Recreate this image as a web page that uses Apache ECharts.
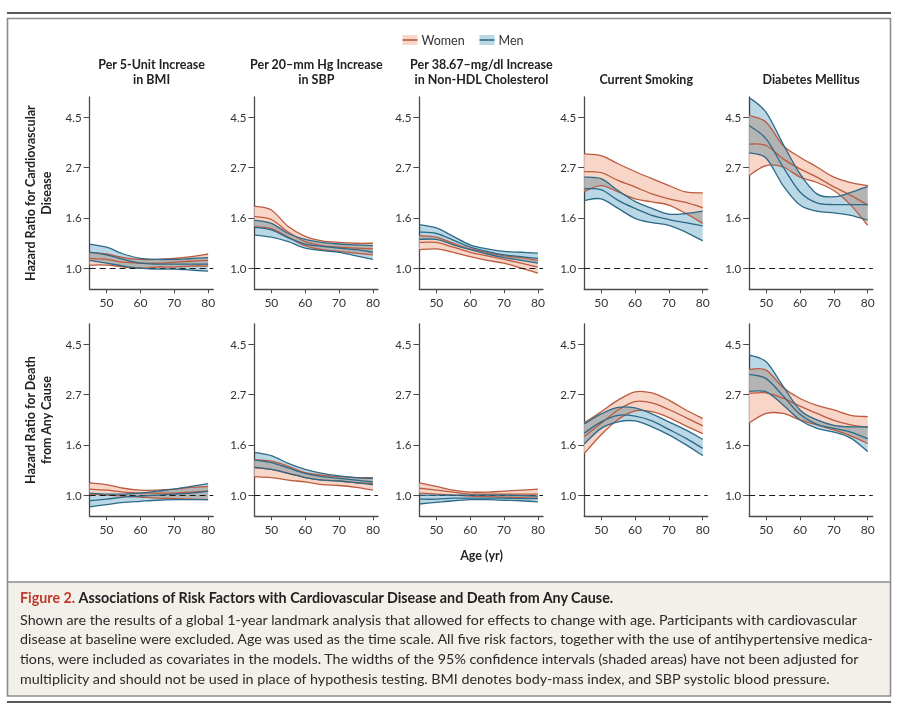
<!DOCTYPE html>
<html><head><meta charset="utf-8">
<script src="https://cdn.jsdelivr.net/npm/echarts@6/dist/echarts.min.js"></script>
<style>
html,body{margin:0;padding:0;background:#fff}
#chart{width:898px;height:712px}
#chart path[fill="#b9d7e5"]{mix-blend-mode:multiply}
</style>
</head><body><div id="chart"></div><script>
// ---------- data ----------
const ages = [45, 50, 55, 60, 65, 70, 75, 80];
const panelTitles = ['Per 5-Unit Increase\nin BMI', 'Per 20\u2013mm Hg Increase\nin SBP', 'Per 38.67\u2013mg/dl Increase\nin Non-HDL Cholesterol', 'Current Smoking', 'Diabetes Mellitus'];
const rowTitles = ['Hazard Ratio for Cardiovascular\nDisease', 'Hazard Ratio for Death\nfrom Any Cause'];
const yTickPositions = [0, 0.5, 1, 1.5];          // ln(hazard ratio)
const yTickLabels = ['1.0', '1.6', '2.7', '4.5'];
const xTickValues = [50, 60, 70, 80];
const legendNames = ['Women', 'Men'];
const xAxisTitle = 'Age (yr)';
const captionTitle = ['Figure 2.', 'Associations of Risk Factors with Cardiovascular Disease and Death from Any Cause.'];
const captionLines = [
  'Shown are the results of a global 1-year landmark analysis that allowed for effects to change with age. Participants with cardiovascular',
  'disease at baseline were excluded. Age was used as the time scale. All five risk factors, together with the use of antihypertensive medica-',
  'tions, were included as covariates in the models. The widths of the 95% confidence intervals (shaded areas) have not been adjusted for',
  'multiplicity and should not be used in place of hypothesis testing. BMI denotes body-mass index, and SBP systolic blood pressure.'
];

// hazard ratios per age: [lower 95% CI, estimate, upper 95% CI]
const cvdBmiWomen = [[1.03,1.10,1.17],[1.03,1.09,1.15],[1.01,1.06,1.11],[1.00,1.05,1.09],[1.01,1.05,1.09],[1.01,1.06,1.10],[1.02,1.07,1.12],[1.02,1.08,1.15]];
const cvdBmiMen   = [[1.08,1.17,1.27],[1.05,1.14,1.23],[1.02,1.09,1.15],[1.00,1.05,1.10],[0.99,1.04,1.09],[0.99,1.04,1.09],[0.98,1.04,1.10],[0.97,1.04,1.11]];
const cvdSbpWomen = [[1.51,1.67,1.85],[1.48,1.62,1.78],[1.36,1.43,1.51],[1.25,1.30,1.37],[1.20,1.25,1.31],[1.18,1.23,1.29],[1.16,1.22,1.28],[1.14,1.21,1.28]];
const cvdSbpMen   = [[1.39,1.50,1.61],[1.36,1.46,1.56],[1.30,1.35,1.41],[1.22,1.27,1.33],[1.19,1.24,1.29],[1.17,1.22,1.27],[1.13,1.20,1.26],[1.09,1.17,1.25]];
const cvdCholWomen = [[1.20,1.29,1.38],[1.21,1.29,1.36],[1.17,1.23,1.28],[1.12,1.17,1.21],[1.08,1.13,1.17],[1.05,1.09,1.13],[1.00,1.05,1.11],[0.95,1.01,1.08]];
const cvdCholMen   = [[1.33,1.43,1.54],[1.33,1.41,1.49],[1.26,1.32,1.37],[1.20,1.23,1.26],[1.15,1.18,1.21],[1.11,1.14,1.18],[1.08,1.12,1.17],[1.05,1.10,1.16]];
const cvdSmokeWomen = [[2.14,2.61,3.11],[2.27,2.58,3.06],[2.13,2.39,2.82],[1.99,2.24,2.61],[1.93,2.09,2.43],[1.87,1.99,2.27],[1.72,1.92,2.13],[1.56,1.82,2.11]];
const cvdSmokeMen   = [[1.96,2.20,2.47],[1.99,2.18,2.43],[1.81,1.96,2.16],[1.64,1.81,1.94],[1.57,1.69,1.81],[1.53,1.62,1.71],[1.43,1.57,1.72],[1.31,1.52,1.76]];
const cvdDiabWomen = [[2.51,3.43,4.55],[2.77,3.38,4.26],[2.73,2.96,3.38],[2.47,2.68,3.01],[2.34,2.47,2.73],[2.16,2.24,2.47],[1.87,2.06,2.34],[1.53,1.87,2.27]];
const cvdDiabMen   = [[3.14,4.12,5.45],[2.98,3.61,4.70],[2.27,2.73,3.43],[1.87,2.13,2.55],[1.76,1.91,2.09],[1.73,1.88,2.03],[1.69,1.88,2.12],[1.61,1.88,2.25]];
const deathBmiWomen = [[1.01,1.06,1.13],[1.00,1.05,1.11],[0.99,1.03,1.07],[0.98,1.02,1.05],[0.97,1.02,1.05],[0.965,1.02,1.06],[0.96,1.03,1.08],[0.955,1.04,1.09]];
const deathBmiMen   = [[0.89,0.945,1.02],[0.91,0.96,1.01],[0.93,0.98,1.01],[0.94,0.99,1.02],[0.95,1.00,1.04],[0.955,1.01,1.06],[0.955,1.02,1.09],[0.955,1.04,1.12]];
const deathSbpWomen = [[1.20,1.31,1.42],[1.19,1.29,1.40],[1.16,1.24,1.33],[1.14,1.19,1.25],[1.11,1.16,1.22],[1.10,1.15,1.20],[1.08,1.13,1.19],[1.05,1.12,1.19]];
const deathSbpMen   = [[1.32,1.42,1.53],[1.29,1.38,1.48],[1.24,1.31,1.37],[1.19,1.24,1.29],[1.16,1.20,1.24],[1.15,1.18,1.21],[1.13,1.16,1.19],[1.11,1.14,1.18]];
const deathCholWomen = [[1.02,1.07,1.13],[1.01,1.05,1.09],[1.00,1.03,1.05],[0.99,1.01,1.03],[0.985,1.01,1.03],[0.98,1.01,1.04],[0.975,1.01,1.05],[0.97,1.01,1.06]];
const deathCholMen   = [[0.915,0.96,1.00],[0.93,0.96,1.00],[0.945,0.97,1.00],[0.955,0.97,1.00],[0.955,0.97,1.00],[0.95,0.97,1.00],[0.945,0.965,0.995],[0.935,0.965,0.99]];
const deathSmokeWomen = [[1.51,1.79,2.05],[1.82,2.04,2.29],[2.12,2.33,2.57],[2.31,2.53,2.79],[2.29,2.50,2.76],[2.16,2.34,2.57],[1.99,2.16,2.33],[1.84,1.99,2.14]];
const deathSmokeMen   = [[1.66,1.85,2.03],[1.94,2.07,2.24],[2.07,2.21,2.39],[2.09,2.19,2.38],[1.97,2.09,2.24],[1.82,1.92,2.07],[1.65,1.76,1.91],[1.48,1.59,1.74]];
const deathDiabWomen = [[2.05,2.75,3.49],[2.25,2.76,3.46],[2.25,2.62,2.91],[2.11,2.42,2.61],[2.01,2.25,2.44],[1.91,2.10,2.33],[1.80,2.01,2.21],[1.67,1.96,2.18]];
const deathDiabMen   = [[2.80,3.32,4.02],[2.79,3.18,3.76],[2.45,2.68,2.95],[2.11,2.23,2.33],[1.94,2.02,2.11],[1.87,1.94,2.00],[1.76,1.87,1.97],[1.54,1.75,1.97]];

const panelData = [
  [cvdBmiWomen, cvdBmiMen], [cvdSbpWomen, cvdSbpMen], [cvdCholWomen, cvdCholMen], [cvdSmokeWomen, cvdSmokeMen], [cvdDiabWomen, cvdDiabMen],
  [deathBmiWomen, deathBmiMen], [deathSbpWomen, deathSbpMen], [deathCholWomen, deathCholMen], [deathSmokeWomen, deathSmokeMen], [deathDiabWomen, deathDiabMen]
];

// ---------- styling / layout ----------
const FONT = 'Lato, "Open Sans", "Noto Sans", sans-serif';
const SEX = [
  {line: '#bd5a3f', fill: '#f7d6c8'},
  {line: '#2d6a88', fill: '#b9d7e5'}
];
const colLeft = [89.6, 254.4, 419.4, 584.2, 749.2];
const rowTop = [97, 324];
const gridW = 123.6, gridH = 192.2;
const AX = '#4a4a4a';

function splinePath(pts) {
  let d = 'M' + pts[0][0] + ',' + pts[0][1];
  for (let k = 0; k < pts.length - 1; k++) {
    const p0 = pts[k - 1] || pts[k], p1 = pts[k], p2 = pts[k + 1], p3 = pts[k + 2] || pts[k + 1];
    const c1x = p1[0] + (p2[0] - p0[0]) / 6, c1y = p1[1] + (p2[1] - p0[1]) / 6;
    const c2x = p2[0] - (p3[0] - p1[0]) / 6, c2y = p2[1] - (p3[1] - p1[1]) / 6;
    d += ' C' + c1x + ',' + c1y + ' ' + c2x + ',' + c2y + ' ' + p2[0] + ',' + p2[1];
  }
  return d;
}

const grids = [], xAxes = [], yAxes = [], series = [];
panelData.forEach((pair, i) => {
  const r = Math.floor(i / 5), c = i % 5;
  grids.push({left: colLeft[c], top: rowTop[r], width: gridW, height: gridH});
  xAxes.push({
    gridIndex: i, type: 'value', min: 45, max: 81.5, position: 'bottom',
    axisLine: {show: true, onZero: false, lineStyle: {color: AX, width: 1.3}},
    axisTick: {show: true, customValues: xTickValues, length: 4, lineStyle: {color: AX, width: 1}},
    axisLabel: {customValues: xTickValues, color: '#333', fontSize: 12, margin: 7, fontFamily: FONT},
    splitLine: {show: false}
  });
  yAxes.push({
    gridIndex: i, type: 'value', min: -0.21, max: 1.70, position: 'left',
    axisLine: {show: true, onZero: false, lineStyle: {color: AX, width: 1.3}},
    axisTick: {show: true, customValues: yTickPositions, length: 6, lineStyle: {color: AX, width: 1}},
    axisLabel: {customValues: yTickPositions, color: '#333', fontSize: 11.5, margin: 8, fontFamily: FONT,
      formatter: v => { const k = yTickPositions.findIndex(p => Math.abs(p - v) < 1e-6); return k >= 0 ? yTickLabels[k] : ''; }},
    splitLine: {show: false}
  });
  // reference line at HR = 1
  series.push({
    type: 'line', xAxisIndex: i, yAxisIndex: i, data: [], silent: true, z: 6,
    markLine: {silent: true, symbol: 'none', label: {show: false}, animation: false,
      lineStyle: {type: [6, 4], color: '#1a1a1a', width: 1.2}, data: [{yAxis: 0}]}
  });
  pair.forEach((rows, s) => {
    const data = rows.map((t, k) => [ages[k], Math.log(t[0]), Math.log(t[1]), Math.log(t[2])]);
    // confidence band
    series.push({
      type: 'custom', name: legendNames[s], xAxisIndex: i, yAxisIndex: i, silent: true, z: 2 + s,
      encode: {x: 0, y: [1, 2, 3]}, data: data,
      renderItem: (params, api) => {
        if (params.dataIndex !== 0) return null;
        const up = data.map(d => api.coord([d[0], d[3]]));
        const lo = data.map(d => api.coord([d[0], d[1]])).reverse();
        const path = splinePath(up) + ' L' + lo[0][0] + ',' + lo[0][1] + ' ' + splinePath(lo).slice(1 + (lo[0][0] + ',' + lo[0][1]).length) + ' Z';
        return {type: 'path', shape: {pathData: path}, style: {fill: SEX[s].fill, stroke: null}};
      }
    });
  });
  pair.forEach((rows, s) => {
    const data = rows.map((t, k) => [ages[k], Math.log(t[0]), Math.log(t[1]), Math.log(t[2])]);
    series.push({
      type: 'custom', name: legendNames[s], xAxisIndex: i, yAxisIndex: i, silent: true, z: 4 + s,
      encode: {x: 0, y: [1, 2, 3]}, data: data,
      renderItem: (params, api) => {
        if (params.dataIndex !== 0) return null;
        const children = [1, 2, 3].map(j => ({
          type: 'path', shape: {pathData: splinePath(data.map(d => api.coord([d[0], d[j]])))},
          style: {fill: null, stroke: SEX[s].line, lineWidth: 1.3}
        }));
        return {type: 'group', children};
      }
    });
  });
});

// ---------- graphics (frame, titles, legend, caption) ----------
const graphic = [];
graphic.push({type: 'rect', z: -10, shape: {x: 0, y: 0, width: 898, height: 712}, style: {fill: '#fff'}, silent: true});
graphic.push({type: 'rect', z: -9, shape: {x: 7.5, y: 582, width: 883, height: 114}, style: {fill: '#f3f0ea', stroke: null}, silent: true});
graphic.push({type: 'rect', z: -8, shape: {x: 7.5, y: 18.5, width: 883, height: 677.5}, style: {fill: null, stroke: '#8c8c8c', lineWidth: 1.6}, silent: true});
graphic.push({type: 'line', z: -8, shape: {x1: 7.5, y1: 582, x2: 890.5, y2: 582}, style: {stroke: '#8c8c8c', lineWidth: 1.3}, silent: true});
graphic.push({type: 'line', z: -8, shape: {x1: 7, y1: 13, x2: 891, y2: 13}, style: {stroke: '#222', lineWidth: 1.6}, silent: true});
graphic.push({type: 'line', z: -8, shape: {x1: 7, y1: 702, x2: 891, y2: 702}, style: {stroke: '#222', lineWidth: 1.6}, silent: true});

panelTitles.forEach((t, c) => {
  graphic.push({type: 'text', x: colLeft[c] + 62, y: 87, silent: true,
    style: {text: t, font: 'bold 12.5px ' + FONT, fill: '#222', align: 'center', verticalAlign: 'bottom', lineHeight: 15}});
});
rowTitles.forEach((t, r) => {
  graphic.push({type: 'text', x: 38, y: rowTop[r] + gridH / 2, rotation: Math.PI / 2, silent: true,
    style: {text: t, font: 'bold 12.5px ' + FONT, fill: '#222', align: 'center', verticalAlign: 'middle', lineHeight: 16}});
});
graphic.push({type: 'text', x: 481.5, y: 555, silent: true,
  style: {text: xAxisTitle, font: 'bold 12.5px ' + FONT, fill: '#222', align: 'center', verticalAlign: 'middle'}});

// legend
const legendX = [402.5, 479.5];
legendNames.forEach((n, s) => {
  graphic.push({type: 'rect', shape: {x: legendX[s], y: 35, width: 15, height: 10}, style: {fill: SEX[s].fill}, silent: true});
  graphic.push({type: 'line', shape: {x1: legendX[s], y1: 40, x2: legendX[s] + 15, y2: 40}, style: {stroke: SEX[s].line, lineWidth: 1.6}, silent: true});
  graphic.push({type: 'text', x: legendX[s] + 19, y: 40.5, silent: true,
    style: {text: n, font: '12.5px ' + FONT, fill: '#333', align: 'left', verticalAlign: 'middle'}});
});

// caption
graphic.push({type: 'text', x: 20, y: 597, silent: true,
  style: {text: '{r|' + captionTitle[0] + '} {b|' + captionTitle[1] + '}', verticalAlign: 'middle', align: 'left',
    rich: {r: {font: 'bold 14.3px ' + FONT, fill: '#c0392b'}, b: {font: 'bold 14.3px ' + FONT, fill: '#222'}}}});
captionLines.forEach((t, k) => {
  graphic.push({type: 'text', x: 20, y: 619 + k * 19.8, silent: true,
    style: {text: t, font: '14.3px ' + FONT, fill: '#2a2a2a', align: 'left', verticalAlign: 'middle'}});
});

const chart = echarts.init(document.getElementById('chart'), null, {renderer: 'svg'});
chart.setOption({
  animation: false,
  backgroundColor: '#fff',
  grid: grids, xAxis: xAxes, yAxis: yAxes, series: series, graphic: graphic
});
</script></body></html>
